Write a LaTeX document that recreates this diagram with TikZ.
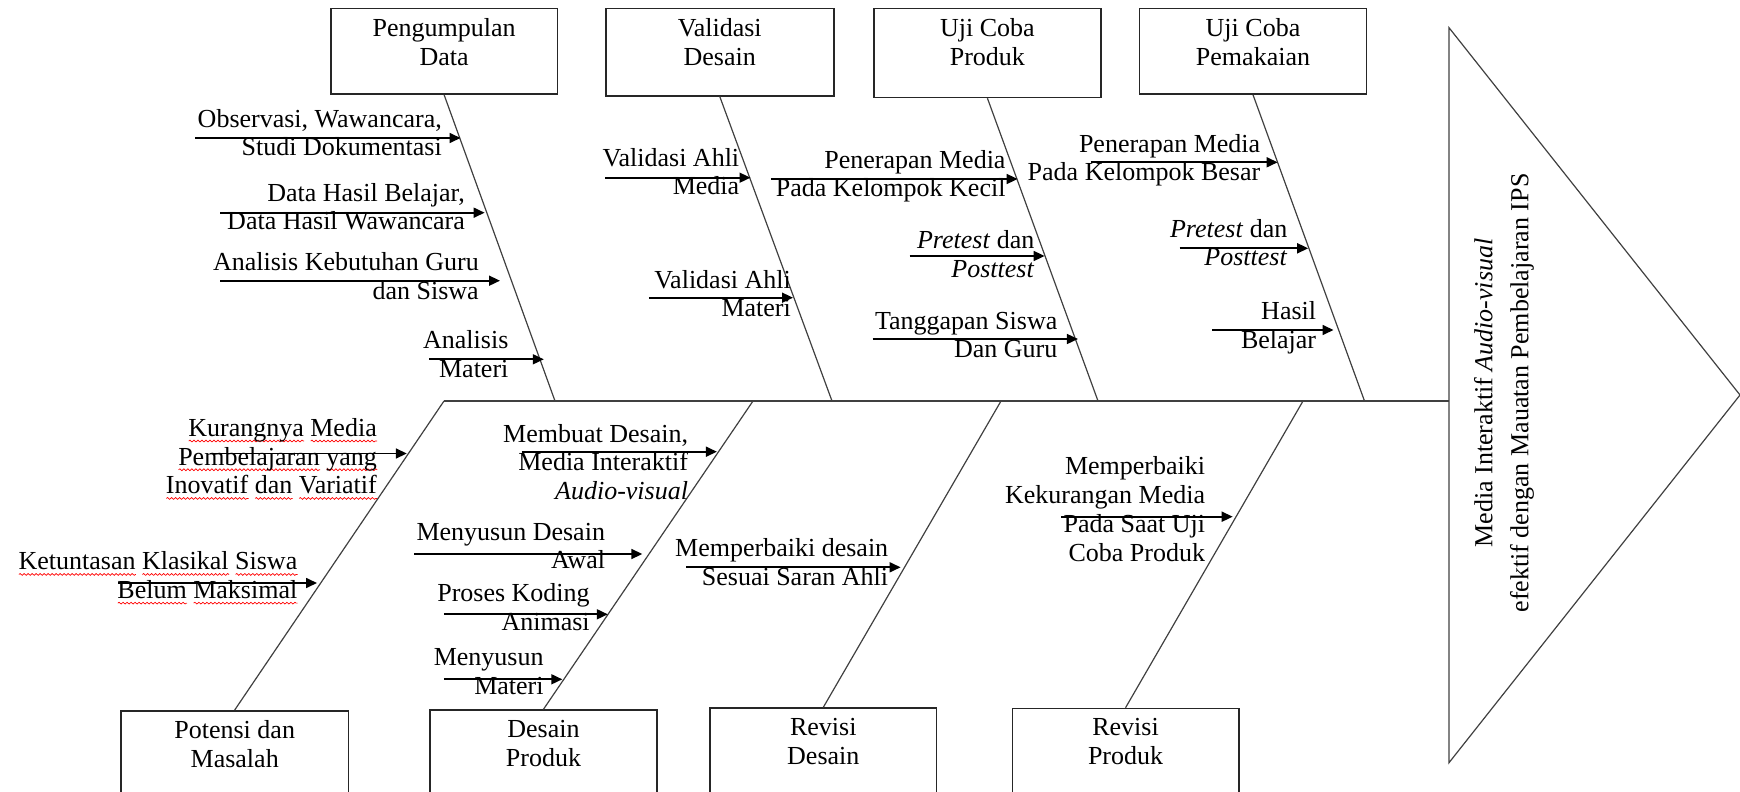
\documentclass[tikz,border=0pt]{standalone}
\usepackage{fontspec}
\setmainfont{Liberation Serif}
\usepackage{xcolor}
\usetikzlibrary{arrows.meta,calc,decorations.pathmorphing}
\newsavebox\sqbox
\newlength\sqwd
\newcommand\sqg[1]{\sbox\sqbox{#1}\setlength\sqwd{\wd\sqbox}\rlap{\tikz[baseline=0pt]\draw[red,line width=0.7pt,decorate,decoration={snake,amplitude=0.9pt,segment length=4pt}] (0pt,-4.5pt) -- (\sqwd,-4.5pt);}\usebox\sqbox}
\tikzset{
  bone/.style={line width=1.2pt, draw=black!75},
  boxst/.style={draw=black!85, line width=1.5pt, inner sep=0pt, anchor=north west},
  lbl/.style={font=\fontsize{26}{28.7}\selectfont, inner sep=0pt, align=right, anchor=north east, execute at begin node={\rule{0pt}{20pt}}},
  ctext/.style={lbl, align=center, anchor=north},
  arr/.style={line width=1.7pt, draw=black, -{Triangle[length=11pt,width=10pt]}},
}
\begin{document}
\begin{tikzpicture}[x=1pt,y=-1pt]
\useasboundingbox (0,0) rectangle (1740,792);
\clip (0,0) rectangle (1740,792);
% ---------- boxes
\node[boxst, minimum width=226.7pt, minimum height=85.3pt] (pd) at (330,8) {};
\node[boxst, minimum width=228pt, minimum height=87pt] (vd) at (605,8) {};
\node[boxst, minimum width=226.7pt, minimum height=88.7pt] (ucp) at (873.3,8) {};
\node[boxst, minimum width=226.9pt, minimum height=85.3pt] (ucm) at (1138.8,8) {};
\node[boxst, minimum width=227.5pt, minimum height=120pt] (pm) at (120.2,710) {};
\node[boxst, minimum width=227.4pt, minimum height=120pt] (dp) at (429,709.3) {};
\node[boxst, minimum width=226.5pt, minimum height=120pt] (rd) at (709.3,707.3) {};
\node[boxst, minimum width=226.4pt, minimum height=120pt] (rp) at (1011.6,707.7) {};
% ---------- box texts
\node[ctext] (pdt) at ($(pd.north)+(0,10.3)$) {Pengumpulan\\Data};
\node[ctext] (vdt) at ($(vd.north)+(0,10.3)$) {Validasi\\Desain};
\node[ctext] (ucpt) at ($(ucp.north)+(0,10.3)$) {Uji Coba\\Produk};
\node[ctext] (ucmt) at ($(ucm.north)+(0,10.3)$) {Uji Coba\\Pemakaian};
\node[ctext] (pmt) at ($(pm.north)+(0,10.3)$) {Potensi dan\\Masalah};
\node[ctext] (dpt) at ($(dp.north)+(0,10.7)$) {Desain\\Produk};
\node[ctext] (rdt) at ($(rd.north)+(0,11)$) {Revisi\\Desain};
\node[ctext] (rpt) at ($(rp.north)+(0,10.6)$) {Revisi\\Produk};
% ---------- spine, bones, head
\coordinate (s0) at (444,401);
\coordinate (jt1) at (555,401);
\coordinate (jt2) at (832,401);
\coordinate (jt3) at (1098,401);
\coordinate (jt4) at (1364.5,401);
\coordinate (jb2) at (753,401);
\coordinate (jb3) at (1001,401);
\coordinate (jb4) at (1303,401);
\coordinate (tA) at (1449,27.7);
\coordinate (tB) at (1449,762.7);
\coordinate (tC) at (1740,395);
\coordinate (s1) at (1449,401);
\draw[bone] (s0) -- (s1);
\draw[bone] (pd.south) -- (jt1);
\draw[bone] (vd.south) -- (jt2);
\draw[bone] (ucp.south) -- (jt3);
\draw[bone] (ucm.south) -- (jt4);
\draw[bone] (pm.north) -- (s0);
\draw[bone] (dp.north) -- (jb2);
\draw[bone] (rd.north) -- (jb3);
\draw[bone] (rp.north) -- (jb4);
\draw[bone] (tA) -- (tC) -- (tB) -- cycle;
\node[rotate=90, inner sep=0pt, align=center, font=\fontsize{26}{36}\selectfont] (goal) at (1504,393)
  {Media Interaktif \textit{Audio-visual}\\efektif dengan Mauatan Pembelajaran IPS};
% ---------- arrows (start / tip)
\coordinate (a1s) at (195,138);     \coordinate (a1e) at (460.5,138);
\coordinate (a2s) at (220,212.7);   \coordinate (a2e) at (484.6,212.7);
\coordinate (a3s) at (220,280.7);   \coordinate (a3e) at (500,280.7);
\coordinate (a4s) at (429,359.3);   \coordinate (a4e) at (543.8,359.3);
\coordinate (a5s) at (605,177.7);   \coordinate (a5e) at (750.5,177.7);
\coordinate (a6s) at (648.8,297.7); \coordinate (a6e) at (793,297.7);
\coordinate (a7s) at (770.8,179);   \coordinate (a7e) at (1017.6,179);
\coordinate (a8s) at (909.6,256);   \coordinate (a8e) at (1044.6,256);
\coordinate (a9s) at (872.6,339);   \coordinate (a9e) at (1077.9,339);
\coordinate (a10s) at (1090.7,162.3); \coordinate (a10e) at (1277.6,162.3);
\coordinate (a11s) at (1179.6,248.3); \coordinate (a11e) at (1308.2,248.3);
\coordinate (a12s) at (1212.3,330);   \coordinate (a12e) at (1333.5,330);
\coordinate (a13s) at (210,453.5);    \coordinate (a13e) at (406.8,453.5);
\coordinate (a14s) at (118.3,583);    \coordinate (a14e) at (317,583);
\coordinate (a15s) at (521.6,451.7);  \coordinate (a15e) at (716.9,451.7);
\coordinate (a16s) at (414.3,554);    \coordinate (a16e) at (642.3,554);
\coordinate (a17s) at (443.9,614.3);  \coordinate (a17e) at (607.8,614.3);
\coordinate (a18s) at (443.9,679.3);  \coordinate (a18e) at (562.3,679.3);
\coordinate (a19s) at (686.3,567.3);  \coordinate (a19e) at (900.6,567.3);
\coordinate (a20s) at (1061.3,516.7); \coordinate (a20e) at (1232.7,516.7);
\foreach \i in {1,...,20} {\draw[arr] (a\i s) -- (a\i e);}
% ---------- labels (right edge, first baseline - 20)
\node[lbl] (l1) at (442,109) {Observasi, Wawancara,\\Studi Dokumentasi};
\node[lbl] (l2) at (465,183) {Data Hasil Belajar,\\Data Hasil Wawancara};
\node[lbl] (l3) at (479,252.7) {Analisis Kebutuhan Guru\\dan Siswa};
\node[lbl] (l4) at (508.6,330.7) {Analisis\\Materi};
\node[lbl] (l5) at (739.4,148) {Validasi Ahli\\Media};
\node[lbl] (l6) at (791,270) {Validasi Ahli\\Materi};
\node[lbl] (l7) at (1005.7,150) {Penerapan Media\\Pada Kelompok Kecil};
\node[lbl] (l8) at (1034.5,230.7) {\textit{Pretest} dan\\\textit{Posttest}};
\node[lbl] (l9) at (1057.5,311.7) {Tanggapan Siswa\\Dan Guru};
\node[lbl] (l10) at (1260.4,134) {Penerapan Media\\Pada Kelompok Besar};
\node[lbl] (l11) at (1287.5,219) {\textit{Pretest} dan\\\textit{Posttest}};
\node[lbl] (l12) at (1316.3,301.7) {Hasil\\Belajar};
\node[lbl] (l13) at (377,418.3) {\sqg{Kurangnya} \sqg{Media}\\\sqg{Pembelajaran} \sqg{yang}\\\sqg{Inovatif} \sqg{dan} \sqg{Variatif}};
\node[lbl] (l14) at (297.5,551.7) {\sqg{Ketuntasan} \sqg{Klasikal} \sqg{Siswa}\\\sqg{Belum} \sqg{Maksimal}};
\node[lbl] (l15) at (688.2,424) {Membuat Desain,\\Media Interaktif\\\textit{Audio-visual}};
\node[lbl] (l16) at (605.2,522.7) {Menyusun Desain\\Awal};
\node[lbl] (l17) at (589.9,583.3) {Proses Koding\\Animasi};
\node[lbl] (l18) at (543.8,648.3) {Menyusun\\Materi};
\node[lbl] (l19) at (888.4,538.3) {Memperbaiki desain\\Sesuai Saran Ahli};
\node[lbl] (l20) at (1205.3,456.7) {Memperbaiki\\Kekurangan Media\\Pada Saat Uji\\Coba Produk};
\end{tikzpicture}
\end{document}
